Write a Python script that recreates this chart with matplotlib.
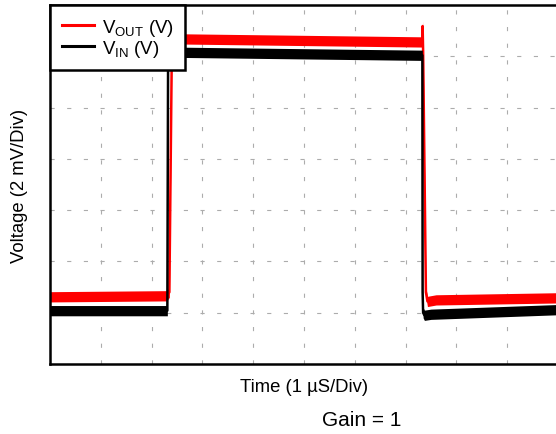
import numpy as np
import matplotlib
matplotlib.use('Agg')
import matplotlib.pyplot as plt

plt.rcParams['font.family'] = ['Liberation Sans', 'DejaVu Sans']
plt.rcParams['mathtext.fontset'] = 'custom'
plt.rcParams['mathtext.rm'] = 'Liberation Sans'
plt.rcParams['lines.scale_dashes'] = False

# time in divisions (1 uS/Div), voltage in divisions (2 mV/Div)
t_in = [0, 2.31, 2.325, 2.40, 7.30, 7.33, 7.335, 7.345, 7.37, 7.5, 10]
v_in = [1.04, 1.04, 6.08, 6.08, 6.02, 6.02, 1.4, 1.0, 0.95, 0.97, 1.06]

t_out = [0, 2.30, 2.35, 2.40, 2.50, 7.30, 7.33, 7.335, 7.345, 7.40, 7.43, 7.6, 10]
v_out = [1.31, 1.33, 1.40, 6.30, 6.34, 6.28, 6.28, 6.59, 6.10, 1.40, 1.22, 1.25, 1.29]

noise = 0.10  # half width of the noise band (div)

fig = plt.figure(figsize=(5.56, 4.35), dpi=100)
ax = fig.add_axes([50 / 556, 1 - 365 / 435, 508 / 556, 359 / 435])

t_out_a = np.array(t_out)
v_out_a = np.array(v_out)
t_in_a = np.array(t_in)
v_in_a = np.array(v_in)

ax.fill_between(t_out_a, v_out_a - noise, v_out_a + noise, color='#ff0000', lw=0, zorder=2)
ax.plot(t_out_a, v_out_a, color='#ff0000', lw=1.8, zorder=2, label='V$_{\\mathrm{OUT}}$ (V)')
ax.fill_between(t_in_a, v_in_a - noise, v_in_a + noise, color='black', lw=0, zorder=3)
ax.plot(t_in_a, v_in_a, color='black', lw=1.8, zorder=3, label='V$_{\\mathrm{IN}}$ (V)')

ax.set_xlim(0, 10)
ax.set_ylim(0, 7)
ax.set_xticks(range(11))
ax.set_yticks(range(8))
ax.tick_params(length=0, labelbottom=False, labelleft=False)
ax.grid(True, color='#acacac', lw=0.8, linestyle=(0, (3, 9)))
ax.set_axisbelow(True)
for s in ax.spines.values():
    s.set_linewidth(1.8)

ax.set_xlabel('Time (1 µS/Div)', fontsize=13.3, labelpad=10)
ax.set_ylabel('Voltage (2 mV/Div)', fontsize=13.3, labelpad=16)

leg = ax.legend(loc='upper left', borderaxespad=0, fontsize=13.5, fancybox=False,
                framealpha=1, edgecolor='black', handlelength=1.72,
                handletextpad=0.42, labelspacing=0.0, borderpad=0.62)
leg.get_frame().set_linewidth(1.8)
for line in leg.get_lines():
    line.set_linewidth(2.2)

fig.text(362 / 556, 1 - 421 / 435, 'Gain = 1', fontsize=15, ha='center', va='center')

fig.savefig('out.png', dpi=100)
